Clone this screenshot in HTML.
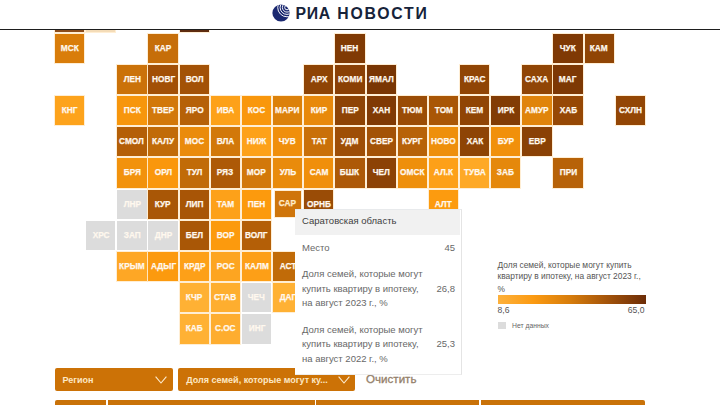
<!DOCTYPE html>
<html lang="ru"><head><meta charset="utf-8"><title>РИА Новости</title>
<style>
html,body{margin:0;padding:0;}
body{width:720px;height:405px;overflow:hidden;position:relative;background:#fff;font-family:"Liberation Sans",Arial,sans-serif;}
.t{position:absolute;color:#fff8ee;font-weight:700;font-size:9px;text-align:center;white-space:nowrap;overflow:hidden;}
.t b{display:inline-block;transform:scaleX(0.92);-webkit-text-stroke:0.25px #fff8ee;}
#hdr{position:absolute;left:0;top:0;width:720px;height:29px;background:#fff;border-bottom:1px solid #1e1e1e;z-index:5;}
#logo-txt{position:absolute;left:295.5px;top:2.6px;font-size:15.8px;font-weight:700;letter-spacing:1.3px;color:#16233a;line-height:22px;white-space:nowrap;}
#globe{position:absolute;left:272px;top:4px;}
#legend{position:absolute;left:497.5px;top:260.2px;width:149px;font-size:8.4px;line-height:11.2px;color:#555;}
#grad{position:absolute;left:497.5px;top:295px;width:148px;height:8.5px;
 background:linear-gradient(90deg,#fdb13c 0%,#fb9a12 24%,#d67c0c 49%,#a3530a 74%,#6c2d08 100%);}
.lbl{position:absolute;font-size:8.6px;color:#555;line-height:10px;}
#nd-sq{position:absolute;left:498px;top:321.5px;width:7.5px;height:7.5px;background:#dcdcdc;}
#nd{position:absolute;left:512px;top:321px;font-size:6.8px;color:#666;line-height:10px;}
#tip{position:absolute;left:295px;top:208.7px;width:166px;height:164px;background:#fff;border-top:1px solid #e8eaec;border-right:1px solid #e4e4e4;border-bottom:1px solid #ededed;z-index:4;color:#686868;font-size:9.5px;}
#tip .h{position:absolute;left:0;top:0;width:164.5px;height:25.5px;background:#f1f1f1;}
#tip .h span{position:absolute;left:7px;top:5px;color:#404040;font-size:9.5px;line-height:11px;white-space:nowrap;}
#tip .r{position:absolute;left:7px;white-space:nowrap;line-height:14.5px;}
#tip .v{position:absolute;right:6px;white-space:nowrap;line-height:14.5px;text-align:right;}
.dd{position:absolute;top:368px;height:22.8px;background:#cc7206;border-radius:2px;color:#fde8c4;font-weight:700;font-size:9px;line-height:22.8px;white-space:nowrap;}
.dd span{position:absolute;left:8px;top:0.5px;}
.dd svg{position:absolute;top:8.5px;}
#clr{position:absolute;left:366px;top:372.4px;font-size:11.6px;color:#94806a;-webkit-text-stroke:0.3px #94806a;line-height:14px;}
.bb{position:absolute;top:400px;height:6px;background:#c97208;}
</style></head><body>
<div class="t" style="left:55.00px;top:2.41px;width:29.30px;height:29.30px;line-height:29.50px;background:#8a4c1c;box-shadow:0 0 0 1px rgba(255,222,170,0.5);"><b></b></div>
<div class="t" style="left:86.15px;top:2.41px;width:29.30px;height:29.30px;line-height:29.50px;background:#f4dcb8;box-shadow:0 0 0 1px rgba(255,222,170,0.5);"><b></b></div>
<div class="t" style="left:179.60px;top:2.41px;width:29.30px;height:29.30px;line-height:29.50px;background:#5e2c10;box-shadow:0 0 0 1px rgba(255,222,170,0.5);"><b></b></div>
<div class="t" style="left:55.00px;top:33.60px;width:29.30px;height:29.30px;line-height:29.50px;background:#d97d0a;box-shadow:0 0 0 1px rgba(255,222,170,0.5);"><b>МСК</b></div>
<div class="t" style="left:148.45px;top:33.60px;width:29.30px;height:29.30px;line-height:29.50px;background:#c66e09;box-shadow:0 0 0 1px rgba(255,222,170,0.5);"><b>КАР</b></div>
<div class="t" style="left:335.35px;top:33.60px;width:29.30px;height:29.30px;line-height:29.50px;background:#803a04;box-shadow:0 0 0 1px rgba(255,222,170,0.5);"><b>НЕН</b></div>
<div class="t" style="left:553.40px;top:33.60px;width:29.30px;height:29.30px;line-height:29.50px;background:#7f3904;box-shadow:0 0 0 1px rgba(255,222,170,0.5);"><b>ЧУК</b></div>
<div class="t" style="left:584.55px;top:33.60px;width:29.30px;height:29.30px;line-height:29.50px;background:#904505;box-shadow:0 0 0 1px rgba(255,222,170,0.5);"><b>КАМ</b></div>
<div class="t" style="left:117.30px;top:64.79px;width:29.30px;height:29.30px;line-height:29.50px;background:#cb7209;box-shadow:0 0 0 1px rgba(255,222,170,0.5);"><b>ЛЕН</b></div>
<div class="t" style="left:148.45px;top:64.79px;width:29.30px;height:29.30px;line-height:29.50px;background:#a25006;box-shadow:0 0 0 1px rgba(255,222,170,0.5);"><b>НОВГ</b></div>
<div class="t" style="left:179.60px;top:64.79px;width:29.30px;height:29.30px;line-height:29.50px;background:#a35206;box-shadow:0 0 0 1px rgba(255,222,170,0.5);"><b>ВОЛ</b></div>
<div class="t" style="left:304.20px;top:64.79px;width:29.30px;height:29.30px;line-height:29.50px;background:#8e4405;box-shadow:0 0 0 1px rgba(255,222,170,0.5);"><b>АРХ</b></div>
<div class="t" style="left:335.35px;top:64.79px;width:29.30px;height:29.30px;line-height:29.50px;background:#8a4005;box-shadow:0 0 0 1px rgba(255,222,170,0.5);"><b>КОМИ</b></div>
<div class="t" style="left:366.50px;top:64.79px;width:29.30px;height:29.30px;line-height:29.50px;background:#793604;box-shadow:0 0 0 1px rgba(255,222,170,0.5);"><b>ЯМАЛ</b></div>
<div class="t" style="left:459.95px;top:64.79px;width:29.30px;height:29.30px;line-height:29.50px;background:#904505;box-shadow:0 0 0 1px rgba(255,222,170,0.5);"><b>КРАС</b></div>
<div class="t" style="left:522.25px;top:64.79px;width:29.30px;height:29.30px;line-height:29.50px;background:#904505;box-shadow:0 0 0 1px rgba(255,222,170,0.5);"><b>САХА</b></div>
<div class="t" style="left:553.40px;top:64.79px;width:29.30px;height:29.30px;line-height:29.50px;background:#7d3804;box-shadow:0 0 0 1px rgba(255,222,170,0.5);"><b>МАГ</b></div>
<div class="t" style="left:55.00px;top:95.98px;width:29.30px;height:29.30px;line-height:29.50px;background:#fda31c;box-shadow:0 0 0 1px rgba(255,222,170,0.5);"><b>КНГ</b></div>
<div class="t" style="left:117.30px;top:95.98px;width:29.30px;height:29.30px;line-height:29.50px;background:#f7960c;box-shadow:0 0 0 1px rgba(255,222,170,0.5);"><b>ПСК</b></div>
<div class="t" style="left:148.45px;top:95.98px;width:29.30px;height:29.30px;line-height:29.50px;background:#d2780a;box-shadow:0 0 0 1px rgba(255,222,170,0.5);"><b>ТВЕР</b></div>
<div class="t" style="left:179.60px;top:95.98px;width:29.30px;height:29.30px;line-height:29.50px;background:#b66108;box-shadow:0 0 0 1px rgba(255,222,170,0.5);"><b>ЯРО</b></div>
<div class="t" style="left:210.75px;top:95.98px;width:29.30px;height:29.30px;line-height:29.50px;background:#fda119;box-shadow:0 0 0 1px rgba(255,222,170,0.5);"><b>ИВА</b></div>
<div class="t" style="left:241.90px;top:95.98px;width:29.30px;height:29.30px;line-height:29.50px;background:#f9970c;box-shadow:0 0 0 1px rgba(255,222,170,0.5);"><b>КОС</b></div>
<div class="t" style="left:273.05px;top:95.98px;width:29.30px;height:29.30px;line-height:29.50px;background:#dc810a;box-shadow:0 0 0 1px rgba(255,222,170,0.5);"><b>МАРИ</b></div>
<div class="t" style="left:304.20px;top:95.98px;width:29.30px;height:29.30px;line-height:29.50px;background:#e8890b;box-shadow:0 0 0 1px rgba(255,222,170,0.5);"><b>КИР</b></div>
<div class="t" style="left:335.35px;top:95.98px;width:29.30px;height:29.30px;line-height:29.50px;background:#8e4405;box-shadow:0 0 0 1px rgba(255,222,170,0.5);"><b>ПЕР</b></div>
<div class="t" style="left:366.50px;top:95.98px;width:29.30px;height:29.30px;line-height:29.50px;background:#803a04;box-shadow:0 0 0 1px rgba(255,222,170,0.5);"><b>ХАН</b></div>
<div class="t" style="left:397.65px;top:95.98px;width:29.30px;height:29.30px;line-height:29.50px;background:#9a4c06;box-shadow:0 0 0 1px rgba(255,222,170,0.5);"><b>ТЮМ</b></div>
<div class="t" style="left:428.80px;top:95.98px;width:29.30px;height:29.30px;line-height:29.50px;background:#a95606;box-shadow:0 0 0 1px rgba(255,222,170,0.5);"><b>ТОМ</b></div>
<div class="t" style="left:459.95px;top:95.98px;width:29.30px;height:29.30px;line-height:29.50px;background:#904505;box-shadow:0 0 0 1px rgba(255,222,170,0.5);"><b>КЕМ</b></div>
<div class="t" style="left:491.10px;top:95.98px;width:29.30px;height:29.30px;line-height:29.50px;background:#823c05;box-shadow:0 0 0 1px rgba(255,222,170,0.5);"><b>ИРК</b></div>
<div class="t" style="left:522.25px;top:95.98px;width:29.30px;height:29.30px;line-height:29.50px;background:#e0840b;box-shadow:0 0 0 1px rgba(255,222,170,0.5);"><b>АМУР</b></div>
<div class="t" style="left:553.40px;top:95.98px;width:29.30px;height:29.30px;line-height:29.50px;background:#964805;box-shadow:0 0 0 1px rgba(255,222,170,0.5);"><b>ХАБ</b></div>
<div class="t" style="left:615.70px;top:95.98px;width:29.30px;height:29.30px;line-height:29.50px;background:#934605;box-shadow:0 0 0 1px rgba(255,222,170,0.5);"><b>СХЛН</b></div>
<div class="t" style="left:117.30px;top:127.17px;width:29.30px;height:29.30px;line-height:29.50px;background:#b45f07;box-shadow:0 0 0 1px rgba(255,222,170,0.5);"><b>СМОЛ</b></div>
<div class="t" style="left:148.45px;top:127.17px;width:29.30px;height:29.30px;line-height:29.50px;background:#c16b08;box-shadow:0 0 0 1px rgba(255,222,170,0.5);"><b>КАЛУ</b></div>
<div class="t" style="left:179.60px;top:127.17px;width:29.30px;height:29.30px;line-height:29.50px;background:#ea8b0b;box-shadow:0 0 0 1px rgba(255,222,170,0.5);"><b>МОС</b></div>
<div class="t" style="left:210.75px;top:127.17px;width:29.30px;height:29.30px;line-height:29.50px;background:#d2780a;box-shadow:0 0 0 1px rgba(255,222,170,0.5);"><b>ВЛА</b></div>
<div class="t" style="left:241.90px;top:127.17px;width:29.30px;height:29.30px;line-height:29.50px;background:#fda119;box-shadow:0 0 0 1px rgba(255,222,170,0.5);"><b>НИЖ</b></div>
<div class="t" style="left:273.05px;top:127.17px;width:29.30px;height:29.30px;line-height:29.50px;background:#f08f0b;box-shadow:0 0 0 1px rgba(255,222,170,0.5);"><b>ЧУВ</b></div>
<div class="t" style="left:304.20px;top:127.17px;width:29.30px;height:29.30px;line-height:29.50px;background:#c97009;box-shadow:0 0 0 1px rgba(255,222,170,0.5);"><b>ТАТ</b></div>
<div class="t" style="left:335.35px;top:127.17px;width:29.30px;height:29.30px;line-height:29.50px;background:#9e4e06;box-shadow:0 0 0 1px rgba(255,222,170,0.5);"><b>УДМ</b></div>
<div class="t" style="left:366.50px;top:127.17px;width:29.30px;height:29.30px;line-height:29.50px;background:#a35206;box-shadow:0 0 0 1px rgba(255,222,170,0.5);"><b>СВЕР</b></div>
<div class="t" style="left:397.65px;top:127.17px;width:29.30px;height:29.30px;line-height:29.50px;background:#b76208;box-shadow:0 0 0 1px rgba(255,222,170,0.5);"><b>КУРГ</b></div>
<div class="t" style="left:428.80px;top:127.17px;width:29.30px;height:29.30px;line-height:29.50px;background:#ee8f0b;box-shadow:0 0 0 1px rgba(255,222,170,0.5);"><b>НОВО</b></div>
<div class="t" style="left:459.95px;top:127.17px;width:29.30px;height:29.30px;line-height:29.50px;background:#8e4405;box-shadow:0 0 0 1px rgba(255,222,170,0.5);"><b>ХАК</b></div>
<div class="t" style="left:491.10px;top:127.17px;width:29.30px;height:29.30px;line-height:29.50px;background:#f1900b;box-shadow:0 0 0 1px rgba(255,222,170,0.5);"><b>БУР</b></div>
<div class="t" style="left:522.25px;top:127.17px;width:29.30px;height:29.30px;line-height:29.50px;background:#8a4105;box-shadow:0 0 0 1px rgba(255,222,170,0.5);"><b>ЕВР</b></div>
<div class="t" style="left:117.30px;top:158.36px;width:29.30px;height:29.30px;line-height:29.50px;background:#f2920c;box-shadow:0 0 0 1px rgba(255,222,170,0.5);"><b>БРЯ</b></div>
<div class="t" style="left:148.45px;top:158.36px;width:29.30px;height:29.30px;line-height:29.50px;background:#fa970c;box-shadow:0 0 0 1px rgba(255,222,170,0.5);"><b>ОРЛ</b></div>
<div class="t" style="left:179.60px;top:158.36px;width:29.30px;height:29.30px;line-height:29.50px;background:#c16b08;box-shadow:0 0 0 1px rgba(255,222,170,0.5);"><b>ТУЛ</b></div>
<div class="t" style="left:210.75px;top:158.36px;width:29.30px;height:29.30px;line-height:29.50px;background:#ad5907;box-shadow:0 0 0 1px rgba(255,222,170,0.5);"><b>РЯЗ</b></div>
<div class="t" style="left:241.90px;top:158.36px;width:29.30px;height:29.30px;line-height:29.50px;background:#d2780a;box-shadow:0 0 0 1px rgba(255,222,170,0.5);"><b>МОР</b></div>
<div class="t" style="left:273.05px;top:158.36px;width:29.30px;height:29.30px;line-height:29.50px;background:#e98b0b;box-shadow:0 0 0 1px rgba(255,222,170,0.5);"><b>УЛЬ</b></div>
<div class="t" style="left:304.20px;top:158.36px;width:29.30px;height:29.30px;line-height:29.50px;background:#f08f0b;box-shadow:0 0 0 1px rgba(255,222,170,0.5);"><b>САМ</b></div>
<div class="t" style="left:335.35px;top:158.36px;width:29.30px;height:29.30px;line-height:29.50px;background:#ad5907;box-shadow:0 0 0 1px rgba(255,222,170,0.5);"><b>БШК</b></div>
<div class="t" style="left:366.50px;top:158.36px;width:29.30px;height:29.30px;line-height:29.50px;background:#8c4205;box-shadow:0 0 0 1px rgba(255,222,170,0.5);"><b>ЧЕЛ</b></div>
<div class="t" style="left:397.65px;top:158.36px;width:29.30px;height:29.30px;line-height:29.50px;background:#ee8f0b;box-shadow:0 0 0 1px rgba(255,222,170,0.5);"><b>ОМСК</b></div>
<div class="t" style="left:428.80px;top:158.36px;width:29.30px;height:29.30px;line-height:29.50px;background:#fda018;box-shadow:0 0 0 1px rgba(255,222,170,0.5);"><b>АЛ.К</b></div>
<div class="t" style="left:459.95px;top:158.36px;width:29.30px;height:29.30px;line-height:29.50px;background:#fea926;box-shadow:0 0 0 1px rgba(255,222,170,0.5);"><b>ТУВА</b></div>
<div class="t" style="left:491.10px;top:158.36px;width:29.30px;height:29.30px;line-height:29.50px;background:#e5880b;box-shadow:0 0 0 1px rgba(255,222,170,0.5);"><b>ЗАБ</b></div>
<div class="t" style="left:553.40px;top:158.36px;width:29.30px;height:29.30px;line-height:29.50px;background:#b76208;box-shadow:0 0 0 1px rgba(255,222,170,0.5);"><b>ПРИ</b></div>
<div class="t" style="left:117.30px;top:189.55px;width:29.30px;height:29.30px;line-height:29.50px;background:#dcdcdc;"><b>ЛНР</b></div>
<div class="t" style="left:148.45px;top:189.55px;width:29.30px;height:29.30px;line-height:29.50px;background:#a95706;box-shadow:0 0 0 1px rgba(255,222,170,0.5);"><b>КУР</b></div>
<div class="t" style="left:179.60px;top:189.55px;width:29.30px;height:29.30px;line-height:29.50px;background:#a85506;box-shadow:0 0 0 1px rgba(255,222,170,0.5);"><b>ЛИП</b></div>
<div class="t" style="left:210.75px;top:189.55px;width:29.30px;height:29.30px;line-height:29.50px;background:#fda119;box-shadow:0 0 0 1px rgba(255,222,170,0.5);"><b>ТАМ</b></div>
<div class="t" style="left:241.90px;top:189.55px;width:29.30px;height:29.30px;line-height:29.50px;background:#fc9a0d;box-shadow:0 0 0 1px rgba(255,222,170,0.5);"><b>ПЕН</b></div>
<div class="t" style="left:274.85px;top:191.35px;width:25.70px;height:25.70px;line-height:25.90px;background:#cf750a;color:#ffe9b8;box-shadow:0 0 0 1px rgba(255,222,170,0.5);"><b>САР</b></div>
<div class="t" style="left:304.20px;top:189.55px;width:29.30px;height:29.30px;line-height:29.50px;background:#9a4c06;box-shadow:0 0 0 1px rgba(255,222,170,0.5);"><b>ОРНБ</b></div>
<div class="t" style="left:428.80px;top:189.55px;width:29.30px;height:29.30px;line-height:29.50px;background:#fc9b0f;box-shadow:0 0 0 1px rgba(255,222,170,0.5);"><b>АЛТ</b></div>
<div class="t" style="left:86.15px;top:220.74px;width:29.30px;height:29.30px;line-height:29.50px;background:#dcdcdc;"><b>ХРС</b></div>
<div class="t" style="left:117.30px;top:220.74px;width:29.30px;height:29.30px;line-height:29.50px;background:#dcdcdc;"><b>ЗАП</b></div>
<div class="t" style="left:148.45px;top:220.74px;width:29.30px;height:29.30px;line-height:29.50px;background:#dcdcdc;"><b>ДНР</b></div>
<div class="t" style="left:179.60px;top:220.74px;width:29.30px;height:29.30px;line-height:29.50px;background:#a95706;box-shadow:0 0 0 1px rgba(255,222,170,0.5);"><b>БЕЛ</b></div>
<div class="t" style="left:210.75px;top:220.74px;width:29.30px;height:29.30px;line-height:29.50px;background:#fc9a0d;box-shadow:0 0 0 1px rgba(255,222,170,0.5);"><b>ВОР</b></div>
<div class="t" style="left:241.90px;top:220.74px;width:29.30px;height:29.30px;line-height:29.50px;background:#b45f07;box-shadow:0 0 0 1px rgba(255,222,170,0.5);"><b>ВОЛГ</b></div>
<div class="t" style="left:117.30px;top:251.93px;width:29.30px;height:29.30px;line-height:29.50px;background:#fea725;box-shadow:0 0 0 1px rgba(255,222,170,0.5);"><b>КРЫМ</b></div>
<div class="t" style="left:148.45px;top:251.93px;width:29.30px;height:29.30px;line-height:29.50px;background:#fc9a0e;box-shadow:0 0 0 1px rgba(255,222,170,0.5);"><b>АДЫГ</b></div>
<div class="t" style="left:179.60px;top:251.93px;width:29.30px;height:29.30px;line-height:29.50px;background:#fda018;box-shadow:0 0 0 1px rgba(255,222,170,0.5);"><b>КРДР</b></div>
<div class="t" style="left:210.75px;top:251.93px;width:29.30px;height:29.30px;line-height:29.50px;background:#fda521;box-shadow:0 0 0 1px rgba(255,222,170,0.5);"><b>РОС</b></div>
<div class="t" style="left:241.90px;top:251.93px;width:29.30px;height:29.30px;line-height:29.50px;background:#fd9f17;box-shadow:0 0 0 1px rgba(255,222,170,0.5);"><b>КАЛМ</b></div>
<div class="t" style="left:273.05px;top:251.93px;width:29.30px;height:29.30px;line-height:29.50px;background:#c16b08;box-shadow:0 0 0 1px rgba(255,222,170,0.5);"><b>АСТ</b></div>
<div class="t" style="left:179.60px;top:283.12px;width:29.30px;height:29.30px;line-height:29.50px;background:#ffb134;box-shadow:0 0 0 1px rgba(255,222,170,0.5);"><b>КЧР</b></div>
<div class="t" style="left:210.75px;top:283.12px;width:29.30px;height:29.30px;line-height:29.50px;background:#feae2f;box-shadow:0 0 0 1px rgba(255,222,170,0.5);"><b>СТАВ</b></div>
<div class="t" style="left:241.90px;top:283.12px;width:29.30px;height:29.30px;line-height:29.50px;background:#dcdcdc;"><b>ЧЕЧ</b></div>
<div class="t" style="left:273.05px;top:283.12px;width:29.30px;height:29.30px;line-height:29.50px;background:#ffb134;box-shadow:0 0 0 1px rgba(255,222,170,0.5);"><b>ДАГ</b></div>
<div class="t" style="left:179.60px;top:314.31px;width:29.30px;height:29.30px;line-height:29.50px;background:#ffb134;box-shadow:0 0 0 1px rgba(255,222,170,0.5);"><b>КАБ</b></div>
<div class="t" style="left:210.75px;top:314.31px;width:29.30px;height:29.30px;line-height:29.50px;background:#fead2f;box-shadow:0 0 0 1px rgba(255,222,170,0.5);"><b>С.ОС</b></div>
<div class="t" style="left:241.90px;top:314.31px;width:29.30px;height:29.30px;line-height:29.50px;background:#dcdcdc;"><b>ИНГ</b></div>
<div id="hdr">
<svg id="globe" width="18" height="18" viewBox="0 0 18 18">
 <defs><clipPath id="gc"><circle cx="9" cy="9" r="8.6"/></clipPath></defs>
 <circle cx="9" cy="9" r="8.6" fill="#1a2870"/>
 <g clip-path="url(#gc)" fill="none" stroke="#ffffff" stroke-width="0.95">
  <circle cx="15" cy="3.5" r="2.3"/>
  <circle cx="15" cy="3.5" r="4.6"/>
  <circle cx="15" cy="3.5" r="6.9"/>
  <circle cx="15" cy="3.5" r="9.3"/>
 </g>
</svg>
<div id="logo-txt"><span style="letter-spacing:0.7px">РИА</span> <span style="position:absolute;left:41.8px;letter-spacing:1.75px">НОВОСТИ</span></div>
</div>
<div id="legend">Доля семей, которые могут купить квартиру в ипотеку, на август 2023 г.,</div>
<div class="lbl" style="left:497.5px;top:284px;font-size:8.4px">%</div>
<div id="grad"></div>
<div class="lbl" style="left:497.5px;top:304.5px">8,6</div>
<div class="lbl" style="left:625.5px;top:304.5px;width:19px;text-align:right">65,0</div>
<div id="nd-sq"></div>
<div id="nd">Нет данных</div>
<div class="dd" style="left:54.5px;width:118.5px"><span>Регион</span>
<svg style="left:100.5px;top:8px" width="12" height="8" viewBox="0 0 12 8"><path d="M0.6 0.6 L6 7 L11.4 0.6" fill="none" stroke="#fdecd0" stroke-width="1.1"/></svg></div>
<div class="dd" style="left:178.3px;width:176.7px"><span>Доля семей, которые могут ку...</span>
<svg style="left:159.7px;top:8px" width="12" height="8" viewBox="0 0 12 8"><path d="M0.6 0.6 L6 7 L11.4 0.6" fill="none" stroke="#fdecd0" stroke-width="1.1"/></svg></div>
<div id="clr">Очистить</div>
<div class="bb" style="left:55px;width:50.5px;border-top-left-radius:2px"></div>
<div class="bb" style="left:107.5px;width:207px"></div>
<div class="bb" style="left:316px;width:163px"></div>
<div class="bb" style="left:480.5px;width:164px;border-top-right-radius:2px"></div>
<div id="tip">
 <div class="h"><span>Саратовская область</span></div>
 <div class="r" style="top:31px">Место</div><div class="v" style="top:31px">45</div>
 <div class="r" style="top:57.5px">Доля семей, которые могут<br>купить квартиру в ипотеку,<br>на август 2023 г., %</div>
 <div class="v" style="top:72px">26,8</div>
 <div class="r" style="top:113px">Доля семей, которые могут<br>купить квартиру в ипотеку,<br>на август 2022 г., %</div>
 <div class="v" style="top:127.5px">25,3</div>
</div>
</body></html>
